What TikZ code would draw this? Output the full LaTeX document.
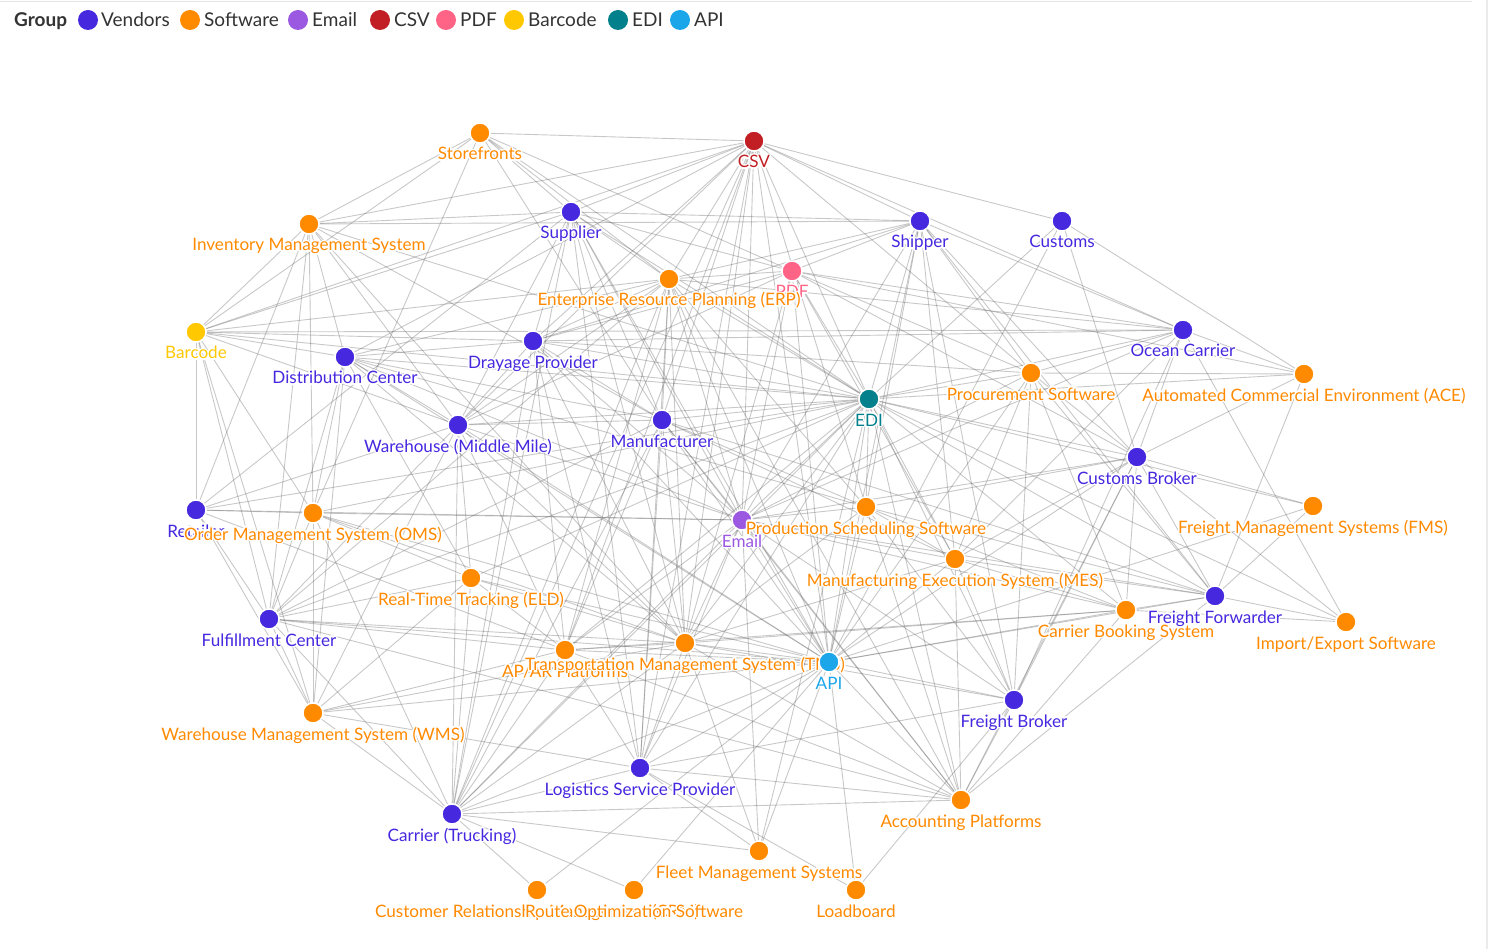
\documentclass[tikz,border=0pt]{standalone}
\usepackage{fontspec}
\setmainfont{Lato}
\usepackage{contour}
\contourlength{1.4pt}
\contournumber{16}
\definecolor{cven}{HTML}{4628DF}
\definecolor{csoft}{HTML}{FF8A00}
\definecolor{cmail}{HTML}{9B59E2}
\definecolor{ccsv}{HTML}{C21F25}
\definecolor{cpdf}{HTML}{FF6487}
\definecolor{cbar}{HTML}{FFC800}
\definecolor{cedi}{HTML}{02808C}
\definecolor{capi}{HTML}{1CA6EA}
\definecolor{ctxt}{HTML}{333333}
\pgfdeclarelayer{bg}
\pgfsetlayers{bg,main}
\tikzset{
  dot/.style={circle,minimum size=20pt,inner sep=0pt,draw=white,line width=1.4pt},
  lbl/.style={anchor=base,inner sep=0pt,font=\fontsize{17.1}{19}\selectfont},
  edge/.style={draw=black!60,opacity=0.36,line width=0.9pt},
  legdot/.style={circle,minimum size=20pt,inner sep=0pt},
  legtxt/.style={anchor=base west,inner sep=0pt,text=ctxt,font=\fontsize{19}{21}\selectfont}
}
\newcommand\gnode[5]{%
  \node[dot,fill=#4] (#1) at (#2,#3) {};
  \node[lbl,text=#4] (#1l) at (#2,#3+27) {\contour{white}{#5}};}
\begin{document}
\begin{tikzpicture}[x=1pt,y=-1pt]
\useasboundingbox (0,0) rectangle (1488,949);
\draw[black!10,line width=1.5pt] (0,1.5) -- (1472,1.5);
\draw[black!8,line width=1.5pt] (1487,0) -- (1487,949);
% legend
\node[anchor=base west,inner sep=0pt,text=ctxt,font=\bfseries\fontsize{19}{21}\selectfont] (lg) at (14,27) {Group};
\node[legdot,fill=cven] (l1) at (88,20) {};
\node[legtxt] (l1t) at (101,27) {Vendors};
\node[legdot,fill=csoft] (l2) at (190,20) {};
\node[legtxt] (l2t) at (204,27) {Software};
\node[legdot,fill=cmail] (l3) at (298,20) {};
\node[legtxt] (l3t) at (312,27) {Email};
\node[legdot,fill=ccsv] (l4) at (380,20) {};
\node[legtxt] (l4t) at (394,27) {CSV};
\node[legdot,fill=cpdf] (l5) at (446,20) {};
\node[legtxt] (l5t) at (460,27) {PDF};
\node[legdot,fill=cbar] (l6) at (514,20) {};
\node[legtxt] (l6t) at (528,27) {Barcode};
\node[legdot,fill=cedi] (l7) at (618,20) {};
\node[legtxt] (l7t) at (632,27) {EDI};
\node[legdot,fill=capi] (l8) at (680,20) {};
\node[legtxt] (l8t) at (694,27) {API};
% nodes
\gnode{SF}{480}{133}{csoft}{Storefronts}
\gnode{CSV}{754}{141}{ccsv}{CSV}
\gnode{IMS}{309}{224}{csoft}{Inventory Management System}
\gnode{SUP}{571}{212}{cven}{Supplier}
\gnode{SHP}{920}{221}{cven}{Shipper}
\gnode{CUS}{1062}{221}{cven}{Customs}
\gnode{PDF}{792}{271}{cpdf}{PDF}
\gnode{ERP}{669}{279}{csoft}{Enterprise Resource Planning (ERP)}
\gnode{BAR}{196}{332}{cbar}{Barcode}
\gnode{DC}{345}{357}{cven}{Distribution Center}
\gnode{DRY}{533}{341}{cven}{Drayage Provider}
\gnode{OC}{1183}{330}{cven}{Ocean Carrier}
\gnode{ACE}{1304}{374}{csoft}{Automated Commercial Environment (ACE)}
\gnode{PROC}{1031}{373}{csoft}{Procurement Software}
\gnode{EDI}{869}{399}{cedi}{EDI}
\gnode{WH}{458}{425}{cven}{Warehouse (Middle Mile)}
\gnode{MFR}{662}{420}{cven}{Manufacturer}
\gnode{CB}{1137}{457}{cven}{Customs Broker}
\gnode{RET}{196}{510}{cven}{Retailer}
\gnode{OMS}{313}{513}{csoft}{Order Management System (OMS)}
\gnode{EML}{742}{520}{cmail}{Email}
\gnode{PSS}{866}{507}{csoft}{Production Scheduling Software}
\gnode{FMS}{1313}{506}{csoft}{Freight Management Systems (FMS)}
\gnode{MES}{955}{559}{csoft}{Manufacturing Execution System (MES)}
\gnode{RTT}{471}{578}{csoft}{Real-Time Tracking (ELD)}
\gnode{FC}{269}{619}{cven}{Fulfillment Center}
\gnode{CBS}{1126}{610}{csoft}{Carrier Booking System}
\gnode{FF}{1215}{596}{cven}{Freight Forwarder}
\gnode{IES}{1346}{622}{csoft}{Import/Export Software}
\gnode{APAR}{565}{650}{csoft}{AP/AR Platforms}
\gnode{TMS}{685}{643}{csoft}{Transportation Management System (TMS)}
\gnode{API}{829}{662}{capi}{API}
\gnode{FB}{1014}{700}{cven}{Freight Broker}
\gnode{WMS}{313}{713}{csoft}{Warehouse Management System (WMS)}
\gnode{LSP}{640}{768}{cven}{Logistics Service Provider}
\gnode{CT}{452}{814}{cven}{Carrier (Trucking)}
\gnode{ACC}{961}{800}{csoft}{Accounting Platforms}
\gnode{FLT}{759}{851}{csoft}{Fleet Management Systems}
\gnode{CRM}{537}{890}{csoft}{Customer Relationship Management (CRM)}
\gnode{ROS}{634}{890}{csoft}{Route Optimization Software}
\gnode{LB}{856}{890}{csoft}{Loadboard}
% edges
\begin{pgfonlayer}{bg}
\foreach \a/\b in {SF/CSV,SF/IMS,SF/BAR,SF/OMS,SF/SUP,SF/MFR,SF/PDF,SF/EDI,SF/ERP,
CSV/SHP,CSV/CUS,CSV/OC,CSV/PROC,CSV/EDI,CSV/IMS,CSV/SUP,CSV/DRY,CSV/WH,CSV/ERP,CSV/MFR,CSV/EML,CSV/TMS,CSV/APAR,CSV/CT,CSV/LSP,CSV/PSS,CSV/BAR,CSV/DC,CSV/API,
IMS/SUP,IMS/SHP,IMS/EDI,IMS/MFR,IMS/WH,IMS/DC,IMS/BAR,IMS/RET,IMS/FC,IMS/OMS,IMS/TMS,
SUP/DRY,SUP/ERP,SUP/EDI,SUP/PDF,SUP/SHP,SUP/MFR,SUP/EML,SUP/API,SUP/WH,SUP/RET,SUP/BAR,SUP/LSP,SUP/TMS,SUP/CT,
SHP/PDF,SHP/ERP,SHP/DRY,SHP/EDI,SHP/PROC,SHP/CB,SHP/MES,SHP/API,SHP/EML,SHP/FF,SHP/OC,SHP/FB,SHP/PSS,
CUS/EDI,CUS/ACE,CUS/API,CUS/CB,
ERP/PDF,ERP/DRY,ERP/EDI,ERP/MFR,ERP/WH,ERP/DC,ERP/BAR,ERP/EML,ERP/API,ERP/PSS,ERP/TMS,ERP/APAR,ERP/LSP,ERP/CT,ERP/FC,ERP/ACC,ERP/OC,
PDF/DRY,PDF/EDI,PDF/OC,PDF/PROC,PDF/CB,PDF/WH,PDF/EML,PDF/MES,PDF/API,PDF/TMS,PDF/ACE,
BAR/DC,BAR/DRY,BAR/OC,BAR/EDI,BAR/WH,BAR/RET,BAR/FC,BAR/OMS,BAR/WMS,
DC/DRY,DC/EDI,DC/WH,DC/MFR,DC/OMS,DC/RTT,DC/FC,DC/WMS,DC/API,DC/TMS,DC/PSS,DC/EML,
DRY/WH,DRY/EDI,DRY/MFR,DRY/EML,DRY/PROC,DRY/OC,DRY/TMS,DRY/API,DRY/APAR,DRY/CT,DRY/LSP,
OC/PROC,OC/EDI,OC/MES,OC/FB,OC/ACE,OC/IES,OC/CB,OC/EML,
ACE/CB,ACE/PROC,ACE/FF,ACE/EDI,
PROC/EDI,PROC/CB,PROC/FF,PROC/MES,PROC/API,PROC/EML,PROC/FB,PROC/CBS,
EDI/WH,EDI/MFR,EDI/CB,EDI/FF,EDI/FMS,EDI/MES,EDI/PSS,EDI/API,EDI/EML,EDI/TMS,EDI/APAR,EDI/CT,EDI/LSP,EDI/FB,EDI/ACC,EDI/RET,EDI/OMS,EDI/FC,EDI/CBS,EDI/RTT,EDI/FLT,EDI/IES,
WH/MFR,WH/EML,WH/API,WH/TMS,WH/APAR,WH/CT,WH/RTT,WH/FC,WH/RET,WH/WMS,
MFR/EML,MFR/PSS,MFR/MES,MFR/API,MFR/TMS,MFR/APAR,MFR/LSP,MFR/CT,MFR/FF,MFR/ACC,MFR/FC,
CB/FF,CB/FMS,CB/MES,CB/PSS,CB/API,CB/CBS,CB/FB,CB/IES,CB/EML,CB/ACC,
RET/OMS,RET/FC,RET/EML,RET/APAR,RET/WMS,
OMS/FC,OMS/WMS,OMS/EML,OMS/RTT,OMS/API,OMS/TMS,OMS/CT,
EML/PSS,EML/MES,EML/API,EML/TMS,EML/APAR,EML/LSP,EML/CT,EML/FB,EML/ACC,EML/CBS,EML/FF,EML/FLT,
PSS/MES,PSS/API,PSS/ACC,PSS/FF,PSS/TMS,PSS/CBS,PSS/FB,
FMS/FF,FMS/API,
MES/API,MES/FB,MES/FF,MES/CBS,MES/ACC,MES/TMS,
RTT/API,RTT/TMS,RTT/APAR,RTT/WMS,RTT/CT,RTT/FC,
FC/APAR,FC/TMS,FC/API,FC/WMS,FC/CT,FC/ACC,
FF/CBS,FF/IES,FF/API,FF/ACC,
CBS/API,CBS/IES,CBS/TMS,CBS/ACC,CBS/APAR,
APAR/TMS,APAR/API,APAR/LSP,APAR/CT,APAR/ACC,APAR/WMS,
TMS/API,TMS/LSP,TMS/CT,TMS/ACC,TMS/FLT,TMS/FB,TMS/WMS,
API/FB,API/ACC,API/LB,API/FLT,API/LSP,API/CT,API/ROS,API/WMS,API/CRM,
FB/ACC,FB/LB,FB/LSP,
WMS/LSP,WMS/CT,
LSP/CT,LSP/FLT,LSP/ACC,LSP/LB,
CT/FLT,CT/CRM,CT/ROS,CT/ACC}
  \draw[edge] (\a) -- (\b);
\end{pgfonlayer}
\end{tikzpicture}
\end{document}
